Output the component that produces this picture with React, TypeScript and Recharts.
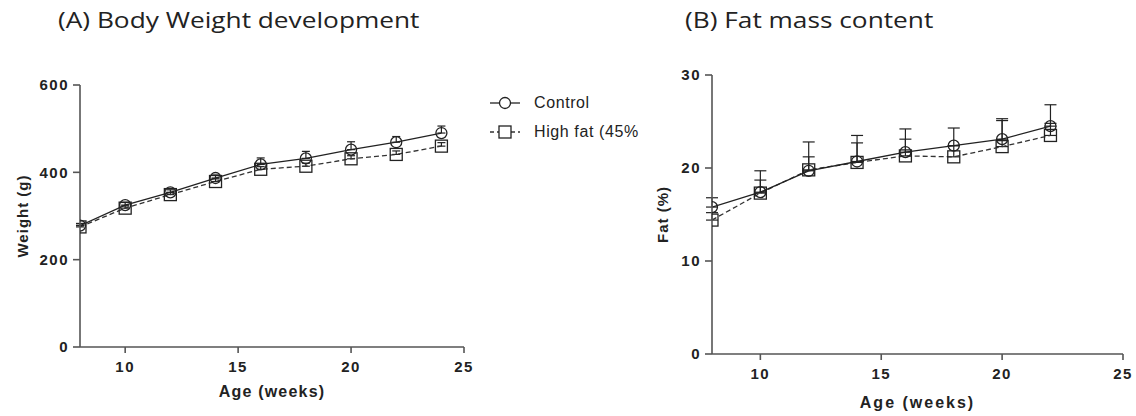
import React from 'react';
import { ComposedChart, Line, XAxis, YAxis, ErrorBar, Label } from 'recharts';

// ---- Data ----
const weeksA = [8, 10, 12, 14, 16, 18, 20, 22, 24];
const weightControl = [278, 325, 354, 387, 418, 432, 452, 469, 490];
const weightHighFat = [275, 318, 349, 379, 407, 414, 431, 441, 460];
const weightControlErr = [5, 6, 6, 7, 15, 16, 18, 13, 16];
const weightHighFatErr = [4, 5, 5, 6, 6, 7, 7, 8, 8];

const weeksB = [8, 10, 12, 14, 16, 18, 20, 22];
const fatControl = [15.8, 17.4, 19.7, 20.7, 21.7, 22.4, 23.1, 24.5];
const fatHighFat = [14.4, 17.3, 19.8, 20.6, 21.3, 21.2, 22.3, 23.5];
const fatControlErr = [1.0, 2.3, 3.1, 2.8, 2.5, 1.9, 2.2, 2.3];
const fatHighFatErr = [0.8, 1.4, 1.4, 2.1, 1.8, 1.2, 2.8, 1.3];

const xTicks = [10, 15, 20, 25];
const weightTicks = [0, 200, 400, 600];
const fatTicks = [0, 10, 20, 30];

const titleA = '(A) Body Weight development';
const titleB = '(B) Fat mass content';
const xTitle = 'Age (weeks)';
const yTitleA = 'Weight (g)';
const yTitleB = 'Fat (%)';
const seriesNames = ['Control', 'High fat (45%'];

const rowsA = weeksA.map((w, i) => ({
  week: w,
  control: weightControl[i],
  highFat: weightHighFat[i],
  cErr: [0, weightControlErr[i]],
  hErr: [0, weightHighFatErr[i]],
}));
const rowsB = weeksB.map((w, i) => ({
  week: w,
  control: fatControl[i],
  highFat: fatHighFat[i],
  cErr: [0, fatControlErr[i]],
  hErr: [0, fatHighFatErr[i]],
}));

const FONT = '"Liberation Sans", Arial, Helvetica, sans-serif';
const INK = '#222';
const AXIS = '#555';

const tickStyle = { fontSize: 15, fontWeight: 'bold', fill: INK, fontFamily: FONT, letterSpacing: 1.5 } as any;

const CircleDot = (p: any) => (
  <circle key={`c-${p.index}`} cx={p.cx} cy={p.cy} r={5.5} fill="none" stroke={INK} strokeWidth={1.3} />
);
const SquareDot = (p: any) => (
  <rect key={`s-${p.index}`} x={p.cx - 6} y={p.cy - 6} width={12} height={12} fill="none" stroke={INK} strokeWidth={1.3} />
);

const yLabel = (text: string, dx: number) => (props: any) => {
  const vb = props.viewBox || {};
  const x = (vb.x || 0) + dx;
  const y = (vb.y || 0) + (vb.height || 0) / 2;
  return (
    <text
      x={x}
      y={y}
      transform={`rotate(-90, ${x}, ${y})`}
      textAnchor="middle"
      fontSize={15}
      fontWeight="bold"
      fontFamily={FONT}
      fill={INK}
      letterSpacing={1}
    >
      {text}
    </text>
  );
};

function Panel(props: {
  rows: any[];
  width: number;
  yTicks: number[];
  yMax: number;
  margin: any;
  yAxisWidth: number;
  xAxisHeight: number;
  xLabelOffset: number;
  yTitle: string;
  yLabelDx: number;
  capW: number;
  xLetter: number;
}) {
  return (
    <ComposedChart width={props.width} height={416} data={props.rows} margin={props.margin}>
      <XAxis
        type="number"
        dataKey="week"
        domain={[8, 25]}
        ticks={xTicks}
        allowDataOverflow
        height={props.xAxisHeight}
        tick={tickStyle}
        tickSize={6}
        tickMargin={8}
        axisLine={{ stroke: AXIS, strokeWidth: 1.6 }}
        tickLine={{ stroke: AXIS, strokeWidth: 1.6 }}
      >
        <Label
          value={xTitle}
          position="insideBottom"
          offset={props.xLabelOffset}
          style={{ fontSize: 16, fontWeight: 'bold', fill: INK, fontFamily: FONT, letterSpacing: props.xLetter } as any}
        />
      </XAxis>
      <YAxis
        type="number"
        domain={[0, props.yMax]}
        ticks={props.yTicks}
        width={props.yAxisWidth}
        tick={tickStyle}
        tickSize={7}
        tickMargin={4}
        axisLine={{ stroke: AXIS, strokeWidth: 1.6 }}
        tickLine={{ stroke: AXIS, strokeWidth: 1.6 }}
      >
        <Label content={yLabel(props.yTitle, props.yLabelDx)} />
      </YAxis>
      <Line
        dataKey="highFat"
        stroke="#333"
        strokeWidth={1.3}
        strokeDasharray="5 3"
        dot={SquareDot}
        activeDot={false}
        isAnimationActive={false}
      >
        <ErrorBar dataKey="hErr" width={props.capW} stroke={INK} strokeWidth={1.2} direction="y" />
      </Line>
      <Line
        dataKey="control"
        stroke={INK}
        strokeWidth={1.3}
        dot={CircleDot}
        activeDot={false}
        isAnimationActive={false}
      >
        <ErrorBar dataKey="cErr" width={props.capW} stroke={INK} strokeWidth={1.2} direction="y" />
      </Line>
    </ComposedChart>
  );
}

const titleStyle: React.CSSProperties = {
  position: 'absolute',
  top: 6,
  fontFamily: '"Open Sans", sans-serif',
  fontSize: 21,
  color: '#222',
  whiteSpace: 'nowrap',
  transform: 'scaleX(1.25)',
  transformOrigin: 'left center',
};

export default function App() {
  return (
    <div
      style={{
        position: 'absolute',
        left: 0,
        top: 0,
        width: 1136,
        height: 416,
        background: '#fff',
        fontFamily: FONT,
        overflow: 'hidden',
      }}
    >
      <div style={{ ...titleStyle, left: 58 }}>{titleA}</div>
      <div style={{ ...titleStyle, left: 685 }}>{titleB}</div>

      <div style={{ position: 'absolute', left: 0, top: 0 }}>
        <Panel
          rows={rowsA}
          width={500}
          yTicks={weightTicks}
          yMax={600}
          margin={{ top: 85, right: 36, bottom: 0, left: 0 }}
          yAxisWidth={80}
          xAxisHeight={69}
          xLabelOffset={19}
          yTitle={yTitleA}
          yLabelDx={28}
          capW={4}
          xLetter={1.2}
        />
      </div>

      <div style={{ position: 'absolute', left: 630, top: 0 }}>
        <Panel
          rows={rowsB}
          width={506}
          yTicks={fatTicks}
          yMax={30}
          margin={{ top: 75, right: 13, bottom: 0, left: 0 }}
          yAxisWidth={82}
          xAxisHeight={62}
          xLabelOffset={8}
          yTitle={yTitleB}
          yLabelDx={38}
          capW={6}
          xLetter={2}
        />
      </div>

      {/* Legend */}
      <div style={{ position: 'absolute', left: 488, top: 92, fontFamily: FONT, fontSize: 16, color: '#222', letterSpacing: 0.6 }}>
        <div style={{ display: 'flex', alignItems: 'center', height: 22 }}>
          <svg width={36} height={20} style={{ marginRight: 10 }}>
            <line x1={2} y1={10} x2={32} y2={10} stroke={INK} strokeWidth={1.3} />
            <circle cx={17} cy={10} r={5.5} fill="#fff" stroke={INK} strokeWidth={1.3} />
          </svg>
          <span>{seriesNames[0]}</span>
        </div>
        <div style={{ display: 'flex', alignItems: 'center', height: 22, marginTop: 7 }}>
          <svg width={36} height={20} style={{ marginRight: 10 }}>
            <line x1={2} y1={10} x2={32} y2={10} stroke="#333" strokeWidth={1.3} strokeDasharray="4 3" />
            <rect x={11} y={4} width={12} height={12} fill="#fff" stroke={INK} strokeWidth={1.3} />
          </svg>
          <span>{seriesNames[1]}</span>
        </div>
      </div>
    </div>
  );
}
